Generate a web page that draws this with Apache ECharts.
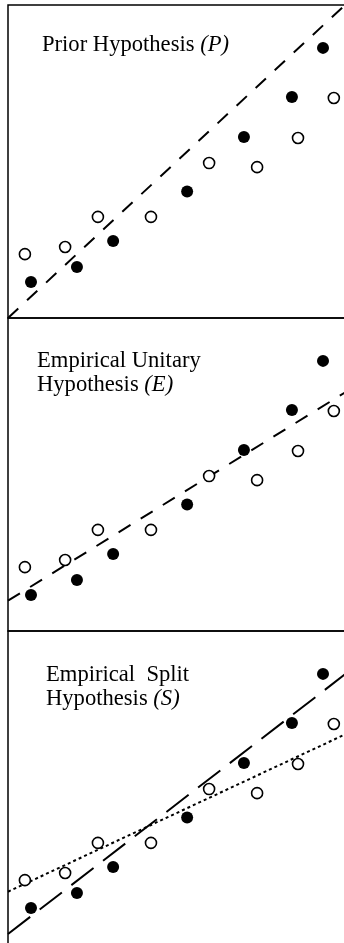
<!DOCTYPE html>
<html>
<head>
<meta charset="utf-8">
<script src="https://cdn.jsdelivr.net/npm/echarts@6/dist/echarts.min.js"></script>
<style>
  html, body { margin: 0; padding: 0; background: #fff; }
  #chart { width: 344px; height: 943px; }
</style>
</head>
<body>
<div id="chart"></div>
<script>
// points (same in all three panels), axis units 0..10
var xFilled = [0.68, 2.04, 3.11, 5.30, 6.98, 8.40, 9.32];
var yFilled = [1.15, 1.63, 2.46, 4.04, 5.78, 7.06, 8.63];
var xOpen = [0.50, 1.69, 2.66, 4.23, 5.95, 7.37, 8.58, 9.64];
var yOpen = [2.04, 2.27, 3.23, 3.23, 4.95, 4.82, 5.75, 7.03];

// fitted lines, value at x = 0 and x = 10
var lineX = [0, 10];
var lineP = [0, 10.03];
var lineE = [0.97, 7.64];
var lineSFilled = [0.32, 8.64];
var lineSOpen = [1.67, 6.71];

var panelTops = [5, 318, 631];
var PANEL_H = 313;

function pairs(xs, ys) {
  return xs.map(function (x, i) { return [x, ys[i]]; });
}

var chart = echarts.init(document.getElementById('chart'));

var grids = [], xAxes = [], yAxes = [], series = [];
panelTops.forEach(function (top, i) {
  grids.push({
    left: 8, top: top, width: 338, height: PANEL_H,
    show: true, borderColor: '#000', borderWidth: 1.5,
    backgroundColor: 'transparent', outerBoundsMode: 'none'
  });
  xAxes.push({ gridIndex: i, type: 'value', min: 0, max: 10, show: false });
  yAxes.push({ gridIndex: i, type: 'value', min: 0, max: 10, show: false });

  series.push({
    type: 'scatter', xAxisIndex: i, yAxisIndex: i,
    symbol: 'circle', symbolSize: 12,
    itemStyle: { color: '#000', opacity: 1 },
    data: pairs(xFilled, yFilled), z: 3
  });
  series.push({
    type: 'scatter', xAxisIndex: i, yAxisIndex: i,
    symbol: 'circle', symbolSize: 11,
    itemStyle: { color: '#fff', borderColor: '#000', borderWidth: 1.6, opacity: 1 },
    data: pairs(xOpen, yOpen), z: 3
  });
});

function fitLine(idx, ys, dash) {
  return {
    type: 'line', xAxisIndex: idx, yAxisIndex: idx,
    showSymbol: false, clip: true, silent: true,
    lineStyle: { color: '#000', width: 2, type: dash },
    data: pairs(lineX, ys), z: 2
  };
}
series.push(fitLine(0, lineP, [14, 12]));
series.push(fitLine(1, lineE, [14, 12]));
series.push(fitLine(2, lineSFilled, [28, 12]));
series.push(fitLine(2, lineSOpen, [3, 3]));

var serif = 'Liberation Serif';
var FS = 22.6;
function label(left, top, text) {
  return {
    left: left, top: top, padding: 0,
    text: text,
    textStyle: {
      fontFamily: serif, fontSize: FS, fontWeight: 'normal', color: '#000', lineHeight: 24,
      rich: {
        n: { fontFamily: serif, fontSize: FS, color: '#000', lineHeight: 24 },
        i: { fontFamily: serif, fontSize: FS, fontStyle: 'italic', color: '#000', lineHeight: 24 }
      }
    }
  };
}

chart.setOption({
  animation: false,
  title: [
    label(42, 33, '{n|Prior Hypothesis }{i|(P)}'),
    label(37, 349, '{n|Empirical Unitary}\n{n|Hypothesis }{i|(E)}'),
    label(46, 663, '{n|Empirical  Split}\n{n|Hypothesis }{i|(S)}')
  ],
  grid: grids,
  xAxis: xAxes,
  yAxis: yAxes,
  series: series
});
</script>
</body>
</html>
